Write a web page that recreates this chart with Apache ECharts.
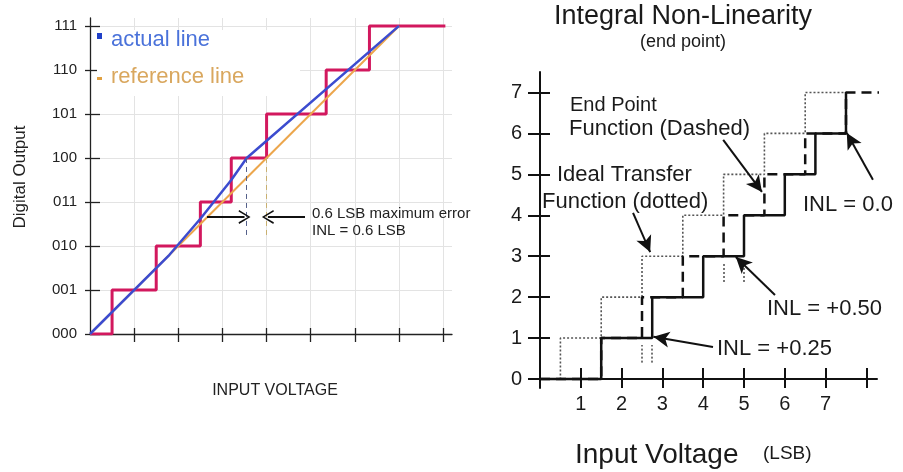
<!DOCTYPE html>
<html><head><meta charset="utf-8">
<script src="https://cdn.jsdelivr.net/npm/echarts@6/dist/echarts.min.js"></script>
<style>html,body{margin:0;padding:0;background:#fff}#c{width:903px;height:472px}</style>
</head><body><div id="c"></div>
<script>
const FONT = '"Liberation Sans", Arial, Helvetica, sans-serif';

// ---------- Left chart data ----------
const codeLabels = ['000', '001', '010', '011', '100', '101', '110', '111'];
const codeTransitionX = [0, 0.5, 1.5, 2.5, 3.2, 4.0, 5.35, 6.33, 8.05];
const codeTransitionY = [0, 1, 2, 3, 4, 5, 6, 7, 7];
const actualLineX = [0, 1.8, 2.5, 3.2, 3.55, 7];
const actualLineY = [0, 1.8, 2.62, 3.5, 4.0, 7];
const referenceLineX = [0, 7];
const referenceLineY = [0, 7];
const leftXTicks = [1, 2, 3, 4, 5, 6, 7, 8];
const leftYTicks = [0, 1, 2, 3, 4, 5, 6, 7];
// annotation guides (data space)
const actualDrop = [[3.53, 4.0], [3.53, 2.18]];
const referenceDrop = [[4.0, 4.0], [4.0, 2.18]];
const errorArrows = [[[2.65, 2.66], [3.5, 2.66]], [[4.87, 2.66], [4.03, 2.66]]];

// ---------- Right chart data ----------
const idealX = [0, 0.5, 1.5, 2.5, 3.5, 4.5, 5.5, 6.5, 7.5];
const idealY = [0, 1, 2, 3, 4, 5, 6, 7, 7];
const endPointX = [0, 1.5, 2.5, 3.5, 4.5, 5.5, 6.5, 7.5, 8.9];
const endPointY = [0, 1, 2, 3, 4, 5, 6, 7, 7];
const actualX = [0, 1.5, 2.75, 4.0, 5.0, 6.0, 6.75, 7.5];
const actualY = [0, 1, 2, 3, 4, 5, 6, 7];
const rightXTicks = [1, 2, 3, 4, 5, 6, 7, 8];
const rightXLabels = [1, 2, 3, 4, 5, 6, 7];
const rightYTicks = [0, 1, 2, 3, 4, 5, 6, 7];
const inlMarks = [
  [[2.5, 0.4], [2.5, 0.83]], [[2.75, 0.4], [2.75, 0.83]],
  [[4.5, 2.37], [4.5, 2.85]], [[5.0, 2.37], [5.0, 2.85]]
];
const rightArrows = [
  [[2.28, 4.06], [2.70, 3.10]],
  [[4.49, 5.84], [5.44, 4.57]],
  [[8.16, 4.87], [7.52, 6.01]],
  [[5.76, 2.05], [4.80, 2.98]],
  [[4.24, 0.78], [2.78, 1.03]]
];

function zip(xs, ys) { return xs.map((x, i) => [x, ys[i]]); }
function segs(list) { return list.map(p => [{coord: p[0]}, {coord: p[1]}]); }

const RED = '#d2185e', BLUE = '#3c4ccf', ORANGE = '#eca64c';
const chevron = 'path://M0,11 L5,0 L10,11 L8.8,11.6 L5,2.6 L1.2,11.6 Z';

const chart = echarts.init(document.getElementById('c'), null, {renderer: 'canvas'});

function txt(text, x, y, size, opts) {
  opts = opts || {};
  return {
    type: 'text', x: x, y: y, z: 100, rotation: opts.rotation || 0,
    style: {
      text: text, font: size + 'px ' + FONT, fill: opts.color || '#1a1a1a',
      align: opts.align || 'left', verticalAlign: 'middle',
      textAlign: opts.align || 'left', textVerticalAlign: 'middle'
    }
  };
}

const option = {
  animation: false,
  backgroundColor: '#fff',
  grid: [
    {left: 90, top: 18, width: 362, height: 316},
    {left: 529, top: 72, width: 348, height: 316}
  ],
  xAxis: [
    {gridIndex: 0, type: 'value', min: 0, max: 8.2, interval: 1, position: 'bottom',
      axisLine: {lineStyle: {color: '#222', width: 1.3}},
      axisTick: {customValues: leftXTicks, length: 8, lineStyle: {color: '#222', width: 1.3}},
      axisLabel: {show: false},
      splitLine: {show: true, lineStyle: {color: '#e3e3e3', width: 1}}},
    {gridIndex: 0, type: 'value', min: 0, max: 8.2, interval: 1, position: 'bottom',
      axisLine: {show: false},
      axisTick: {customValues: leftXTicks, inside: true, length: 6, lineStyle: {color: '#222', width: 1.3}},
      axisLabel: {show: false}, splitLine: {show: false}},
    {gridIndex: 1, type: 'value', min: -0.27, max: 8.26, position: 'bottom',
      axisLine: {onZero: true, lineStyle: {color: '#111', width: 2}},
      axisTick: {customValues: rightXTicks, length: 9, lineStyle: {color: '#111', width: 2}},
      axisLabel: {customValues: rightXLabels, margin: 6, fontSize: 20, fontFamily: FONT, color: '#1a1a1a'},
      splitLine: {show: false}},
    {gridIndex: 1, type: 'value', min: -0.27, max: 8.26, position: 'bottom',
      axisLine: {show: false, onZero: true},
      axisTick: {customValues: rightXTicks, inside: true, length: 11, lineStyle: {color: '#111', width: 2}},
      axisLabel: {show: false}, splitLine: {show: false}}
  ],
  yAxis: [
    {gridIndex: 0, type: 'value', min: 0, max: 7.18, interval: 1, position: 'left',
      axisLine: {lineStyle: {color: '#222', width: 1.3}},
      axisTick: {customValues: leftYTicks, length: 5, lineStyle: {color: '#222', width: 1.3}},
      axisLabel: {customValues: leftYTicks, margin: 13, fontSize: 15, fontFamily: FONT, color: '#222',
        formatter: v => codeLabels[Math.round(v)]},
      splitLine: {show: true, lineStyle: {color: '#e3e3e3', width: 1}}},
    {gridIndex: 0, type: 'value', min: 0, max: 7.18, interval: 1, position: 'left',
      axisLine: {show: false},
      axisTick: {customValues: leftYTicks, inside: true, length: 10, lineStyle: {color: '#222', width: 1.3}},
      axisLabel: {show: false}, splitLine: {show: false}},
    {gridIndex: 1, type: 'value', min: -0.22, max: 7.5, position: 'left',
      axisLine: {onZero: true, lineStyle: {color: '#111', width: 2}},
      axisTick: {customValues: rightYTicks, length: 12, lineStyle: {color: '#111', width: 2}},
      axisLabel: {customValues: rightYTicks, margin: 7, fontSize: 20, fontFamily: FONT, color: '#1a1a1a'},
      splitLine: {show: false}},
    {gridIndex: 1, type: 'value', min: -0.22, max: 7.5, position: 'left',
      axisLine: {show: false, onZero: true},
      axisTick: {customValues: rightYTicks, inside: true, length: 10, lineStyle: {color: '#111', width: 2}},
      axisLabel: {show: false}, splitLine: {show: false}}
  ],
  series: [
    {name: 'output code', type: 'line', xAxisIndex: 0, yAxisIndex: 0, step: 'end',
      data: zip(codeTransitionX, codeTransitionY), symbol: 'none', silent: true, z: 2,
      lineStyle: {color: RED, width: 3}},
    {name: 'reference line', type: 'line', xAxisIndex: 0, yAxisIndex: 0,
      data: zip(referenceLineX, referenceLineY), symbol: 'none', silent: true, z: 3,
      lineStyle: {color: ORANGE, width: 2},
      markLine: {silent: true, symbol: ['none', 'none'], label: {show: false},
        lineStyle: {color: '#c9b070', width: 1, type: [5, 4]},
        data: segs([referenceDrop])}},
    {name: 'actual line', type: 'line', xAxisIndex: 0, yAxisIndex: 0,
      data: zip(actualLineX, actualLineY), symbol: 'none', silent: true, z: 4,
      lineStyle: {color: BLUE, width: 2.5},
      markLine: {silent: true, symbol: ['none', 'none'], label: {show: false},
        lineStyle: {color: '#55608a', width: 1, type: [5, 4]},
        data: segs([actualDrop])}},
    {name: 'error arrows', type: 'line', xAxisIndex: 0, yAxisIndex: 0, data: [], silent: true, z: 5,
      markLine: {silent: true, symbol: ['none', chevron], symbolSize: [14, 12], label: {show: false},
        lineStyle: {color: '#111', width: 1.8, type: 'solid'},
        data: segs(errorArrows)}},

    {name: 'Ideal Transfer Function', type: 'line', xAxisIndex: 2, yAxisIndex: 2, step: 'end',
      data: zip(idealX, idealY), symbol: 'none', silent: true, z: 2,
      lineStyle: {color: '#555', width: 1.6, type: [2, 2]},
      markLine: {silent: true, symbol: ['none', 'none'], label: {show: false},
        lineStyle: {color: '#555', width: 1.6, type: [2, 2]},
        data: segs(inlMarks)}},
    {name: 'End Point Function', type: 'line', xAxisIndex: 2, yAxisIndex: 2, step: 'end', clip: false,
      data: zip(endPointX, endPointY), symbol: 'none', silent: true, z: 3,
      lineStyle: {color: '#111', width: 2.5, type: [10, 6]}},
    {name: 'Actual', type: 'line', xAxisIndex: 2, yAxisIndex: 2, step: 'end',
      data: zip(actualX, actualY), symbol: 'none', silent: true, z: 4,
      lineStyle: {color: '#111', width: 2.5},
      markLine: {silent: true, symbol: ['none', 'arrow'], symbolSize: [12, 16], label: {show: false},
        lineStyle: {color: '#111', width: 2, type: 'solid'},
        data: segs(rightArrows)}}
  ],
  graphic: [
    {type: 'rect', z: 1, shape: {x: 97, y: 30, width: 203, height: 66}, style: {fill: '#fff'}},
    {type: 'rect', z: 100, shape: {x: 97, y: 33, width: 5, height: 6}, style: {fill: '#2040c8'}},
    {type: 'rect', z: 100, shape: {x: 97, y: 77, width: 5, height: 3}, style: {fill: '#e0a040'}},
    txt('actual line', 111, 40, 22, {color: '#4a72da'}),
    txt('reference line', 111, 77, 22, {color: '#d9a75e'}),
    txt('0.6 LSB maximum error', 312, 214, 15, {color: '#222'}),
    txt('INL = 0.6 LSB', 312, 231, 15, {color: '#222'}),
    txt('INPUT VOLTAGE', 275, 391, 16, {color: '#222', align: 'center'}),
    txt('Digital Output', 20, 177, 17, {color: '#222', align: 'center', rotation: Math.PI / 2}),

    txt('Integral Non-Linearity', 683, 17, 27, {align: 'center'}),
    txt('(end point)', 683, 42, 18, {align: 'center'}),
    txt('End Point', 570, 105, 20),
    txt('Function (Dashed)', 569, 129, 22),
    txt('Ideal Transfer', 557, 175, 22),
    txt('Function (dotted)', 542, 202, 22),
    txt('INL = 0.0', 803, 205, 22),
    txt('INL = +0.50', 767, 309, 22),
    txt('INL = +0.25', 717, 349, 22),
    txt('Input Voltage', 575, 455, 28),
    txt('(LSB)', 763, 454, 19)
  ]
};
chart.setOption(option);
</script>
</body></html>
